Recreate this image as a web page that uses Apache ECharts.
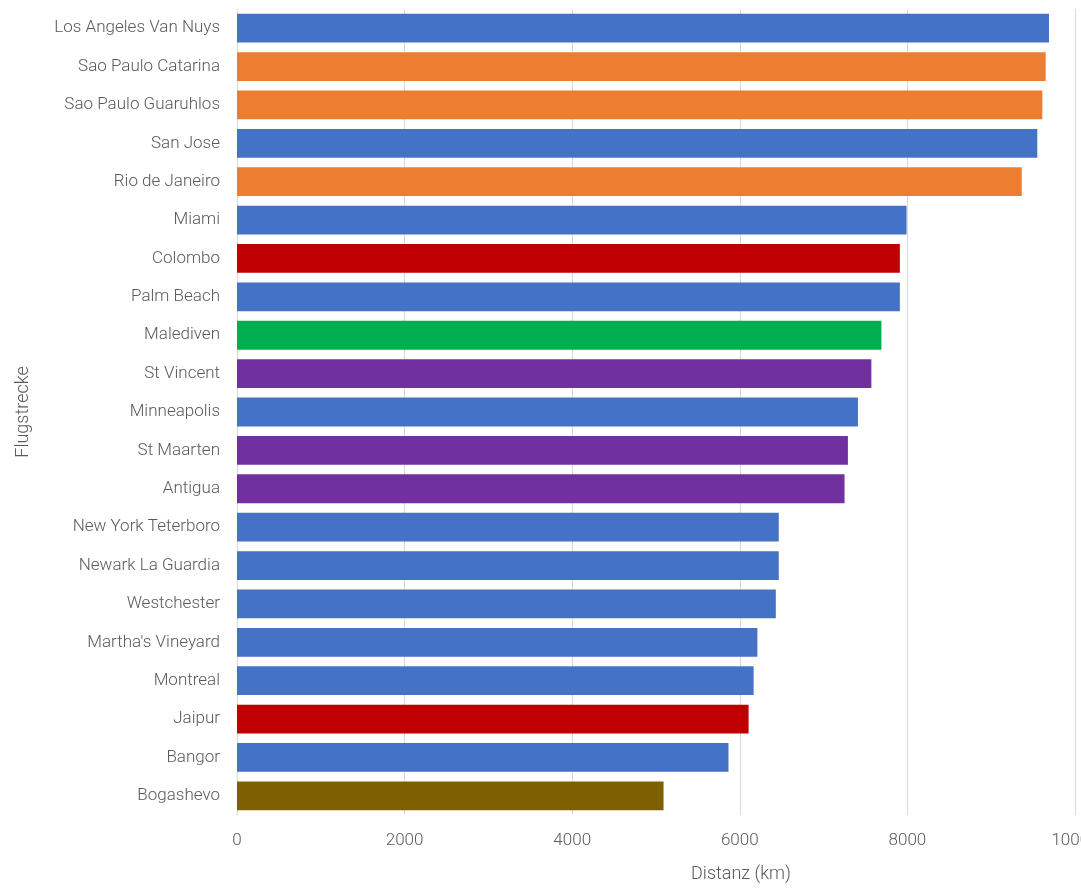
<!DOCTYPE html>
<html>
<head>
<meta charset="utf-8">
<script src="https://cdn.jsdelivr.net/npm/echarts@6/dist/echarts.min.js"></script>
<style>
  html, body { margin: 0; padding: 0; background: #fff; }
  #chart { width: 1081px; height: 889px; }
</style>
</head>
<body>
<div id="chart"></div>
<script>
// routes, top to bottom
const routes = [
  'Los Angeles Van Nuys', 'Sao Paulo Catarina', 'Sao Paulo Guaruhlos', 'San Jose',
  'Rio de Janeiro', 'Miami', 'Colombo', 'Palm Beach', 'Malediven', 'St Vincent',
  'Minneapolis', 'St Maarten', 'Antigua', 'New York Teterboro', 'Newark La Guardia',
  'Westchester', "Martha's Vineyard", 'Montreal', 'Jaipur', 'Bangor', 'Bogashevo'
]
const distances = [
  9690, 9650, 9610, 9550, 9365, 7990, 7910, 7910, 7690, 7570,
  7410, 7290, 7250, 6465, 6465, 6430, 6210, 6165, 6105, 5865, 5090
]
// region of each route
const regions = [
  'us', 'sa', 'sa', 'us', 'sa', 'us', 'asia', 'us', 'maldives', 'carib',
  'us', 'carib', 'carib', 'us', 'us', 'us', 'us', 'us', 'asia', 'us', 'russia'
]
const xTicks = [0, 2000, 4000, 6000, 8000, 10000]

const regionColors = {
  us: '#4472C4',
  sa: '#ED7D31',
  asia: '#C00000',
  maldives: '#00B050',
  carib: '#7030A0',
  russia: '#7F6000'
}

const chart = echarts.init(document.getElementById('chart'))

chart.setOption({
  animation: false,
  textStyle: { fontFamily: 'Roboto', fontWeight: 300 },
  grid: { left: 237, right: 6, top: 9, bottom: 74, outerBoundsMode: 'none' },
  xAxis: {
    type: 'value',
    min: xTicks[0],
    max: xTicks[xTicks.length - 1],
    interval: 2000,
    name: 'Distanz (km)',
    nameLocation: 'middle',
    nameGap: 50,
    nameTextStyle: { color: '#595959', fontSize: 18, fontWeight: 300, padding: [0, 0, 0, 170] },
    axisLine: { show: false },
    axisTick: { show: false },
    axisLabel: { color: '#595959', fontSize: 17, fontWeight: 300, margin: 17, formatter: v => String(v) },
    splitLine: { lineStyle: { color: '#d9d9d9' } }
  },
  yAxis: {
    type: 'category',
    data: routes,
    inverse: true,
    name: 'Flugstrecke',
    nameLocation: 'middle',
    nameGap: 205,
    nameTextStyle: { color: '#595959', fontSize: 18, fontWeight: 300 },
    axisLine: { show: true, lineStyle: { color: '#d9d9d9' } },
    axisTick: { show: false },
    axisLabel: { color: '#595959', fontSize: 17, fontWeight: 300, margin: 17 }
  },
  series: [{
    type: 'bar',
    barCategoryGap: '25%',
    data: distances.map((v, i) => ({
      value: v,
      itemStyle: { color: regionColors[regions[i]] }
    }))
  }]
})
</script>
</body>
</html>
